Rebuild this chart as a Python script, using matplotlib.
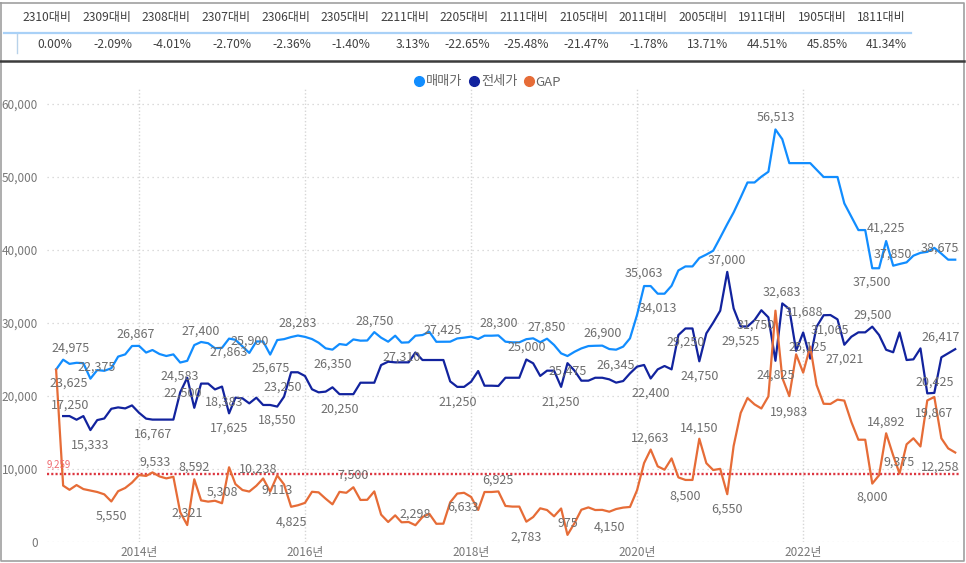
import numpy as np
import pandas as pd
import matplotlib
matplotlib.use("Agg")
import matplotlib.pyplot as plt
from matplotlib.lines import Line2D

plt.rcParams['font.family'] = ['Noto Sans CJK KR', 'DejaVu Sans']

# ---- data -------------------------------------------------------------
compare_cols = ['2310대비', '2309대비', '2308대비', '2307대비', '2306대비', '2305대비',
                '2211대비', '2205대비', '2111대비', '2105대비', '2011대비', '2005대비',
                '1911대비', '1905대비', '1811대비']
compare_vals = ['0.00%', '-2.09%', '-4.01%', '-2.70%', '-2.36%', '-1.40%', '3.13%',
                '-22.65%', '-25.48%', '-21.47%', '-1.78%', '13.71%', '44.51%',
                '45.85%', '41.34%']

months = pd.date_range('2013-01-01', periods=131, freq='MS')

sale = [23625, 24975, 24400, 24550, 24500, 22375, 23550, 23450, 23800, 25400,
        25700, 26850, 26867, 25950, 26300, 25750, 25480, 25700, 24583, 24821,
        26975, 27400, 27230, 26550, 26600, 27863, 27700, 26800, 25900, 27470,
        27470, 25675, 27663, 27790, 28075, 28283, 28100, 27800, 27300, 26530,
        26350, 27120, 26990, 27750, 27580, 27600, 28750, 27990, 27440, 28260,
        27310, 27350, 28260, 28350, 28800, 27425, 27440, 27440, 27883, 27990,
        28130, 27810, 28260, 28260, 28300, 27440, 27350, 27350, 27783, 27900,
        27365, 27850, 26990, 25840, 25475, 26060, 26518, 26840, 26880, 26900,
        26430, 26345, 26764, 27900, 31100, 35063, 35063, 34013, 34013, 35100,
        37200, 37750, 37750, 38900, 39376, 39900, 41700, 43550, 45150, 47200,
        49250, 49250, 50040, 50720, 56513, 55180, 51900, 51900, 51900, 51900,
        51000, 50000, 50000, 50000, 46390, 44560, 42730, 42730, 37500, 37500,
        41225, 37850, 38080, 38310, 39224, 39610, 39748, 40292, 39500, 38675,
        38675]

jeonse = [np.nan, 17250, 17250, 16750, 17250, 15333, 16700, 16920, 18250, 18440,
          18300, 18710, 17700, 16900, 16767, 16767, 16767, 16767, 20500, 22500,
          18383, 21700, 21700, 20900, 21292, 17625, 19770, 19680, 18990, 19770,
          18770, 18770, 18550, 19910, 23250, 23250, 22740, 20920, 20500, 20600,
          21190, 20250, 20250, 20250, 21820, 21820, 21820, 24240, 24700, 24610,
          24610, 24610, 25962, 24930, 24930, 24930, 24930, 22000, 21250, 21250,
          21960, 23420, 21410, 21410, 21375, 22500, 22500, 22500, 25000, 24480,
          22750, 23470, 23470, 21250, 24500, 23470, 22100, 22100, 22500, 22500,
          22280, 21830, 22050, 23100, 24020, 24250, 22400, 23650, 24110, 23650,
          28350, 29250, 29250, 24750, 28580, 30040, 31680, 37000, 32000, 29525,
          29525, 30400, 31750, 30770, 24825, 32683, 31917, 26190, 28700, 25125,
          29490, 31065, 31090, 30500, 27021, 28120, 28720, 28720, 29500, 28350,
          26333, 25990, 28705, 24930, 25020, 26520, 20360, 20425, 25300, 25850,
          26417]

gap = [23625, 7725, 7150, 7800, 7250, 7042, 6850, 6530, 5550, 6960,
       7400, 8140, 9167, 9050, 9533, 8983, 8713, 8933, 4083, 2321,
       8592, 5700, 5530, 5650, 5308, 10238, 7930, 7120, 6910, 7700,
       8700, 6905, 9113, 7880, 4825, 5033, 5360, 6880, 6800, 5930,
       5160, 6870, 6740, 7500, 5760, 5780, 6930, 3750, 2740, 3650,
       2700, 2740, 2298, 3420, 3870, 2495, 2510, 5440, 6633, 6740,
       6170, 4390, 6850, 6850, 6925, 4940, 4850, 4850, 2783, 3420,
       4615, 4380, 3520, 4590, 975, 2590, 4418, 4740, 4380, 4400,
       4150, 4515, 4714, 4800, 7080, 10813, 12663, 10363, 9903, 11450,
       8850, 8500, 8500, 14150, 10796, 9860, 10020, 6550, 13150, 17675,
       19725, 18850, 18290, 19950, 31688, 22497, 19983, 25710, 23200, 26775,
       21510, 18935, 18910, 19500, 19369, 16440, 14010, 14010, 8000, 9150,
       14892, 11860, 9375, 13380, 14204, 13090, 19388, 19867, 14200, 12825,
       12258]

gap_avg = 9259

# data labels: (month index, dx px, dy px downward)
sale_lbl = [(0, 13, 14), (1, 7, -12), (5, 6, -12), (12, -3, -12), (18, 0, 14),
            (21, 0, -11), (25, 0, 14), (28, 0, -12), (31, 0, 14), (35, 0, -12),
            (40, 0, 14), (46, 0, -11), (50, 0, 15), (55, 6, -12), (64, 0, -12),
            (71, 0, -12), (74, 0, 15), (79, 0, -12), (81, 0, 15), (85, 0, -13),
            (87, 0, 14), (104, 0, -12), (118, 0, 14), (120, 0, -13), (121, 0, -12),
            (129, -8, -12)]
jeonse_lbl = [(1, 7, -11), (5, 0, 15), (14, 1, 15), (19, -4, 15), (20, 30, -6),
              (25, 0, 15), (32, 0, 14), (34, -8, 15), (41, 0, 15), (58, 0, 15),
              (68, 0, -12), (73, 0, 15), (86, 0, 15), (91, 0, 14), (93, 0, 15),
              (97, 0, -12), (99, 0, 15), (102, -6, 15), (104, 0, 14), (105, 0, -11),
              (109, -2, -11), (111, 6, 15), (114, 0, 14), (118, 0, -12), (127, 0, -11),
              (130, -15, -12)]
gap_lbl = [(8, 0, 15), (14, 3, -10), (19, 0, -12), (20, 0, -12), (24, 0, -11),
           (25, 29, 2), (32, 0, 15), (34, 0, 15), (43, 0, -12), (52, 0, -11),
           (58, 6, 14), (64, 0, -11), (68, 0, 15), (74, 0, -11), (80, 0, 15),
           (86, 0, -11), (91, 0, 16), (93, 0, -11), (97, 0, 15), (104, 28, 1),
           (106, 0, 16), (118, 0, 14), (120, 0, -11), (122, 0, -11), (127, 0, 16),
           (130, -15, 15)]

c_sale, c_jeonse, c_gap = '#118DFF', '#12239E', '#E66C37'
txt_gray = '#6e6e6e'

W, H = 966, 563
fig = plt.figure(figsize=(W / 100, H / 100), dpi=100)


def fx(x):
    return x / W


def fy(y):
    return 1 - y / H


# ---- comparison table on top -----------------------------------------
col_w = 59.6
for k, (c, v) in enumerate(zip(compare_cols, compare_vals)):
    right = 18 + col_w * (k + 1)
    fig.text(fx(right - 6), fy(18), c, ha='right', va='center', fontsize=8.7, color='#404040')
    fig.text(fx(right - 5), fy(45), v, ha='right', va='center', fontsize=8.7, color='#404040')
    fig.add_artist(Line2D([fx(right - col_w + 1), fx(right - 1)], [fy(33), fy(33)],
                          color='#a9d1f7', lw=1.6))
fig.add_artist(Line2D([fx(4), fx(17)], [fy(33), fy(33)], color='#a9d1f7', lw=1.6))
fig.add_artist(Line2D([fx(17), fx(17)], [fy(34), fy(53)], color='#b8d2ea', lw=1))

# frame
fig.add_artist(Line2D([fx(1), fx(964), fx(964), fx(1), fx(1)],
                      [fy(3), fy(3), fy(561), fy(561), fy(3)], color='#a0a0a0', lw=1.2))
fig.add_artist(Line2D([0, fx(964)], [fy(61), fy(61)], color='#3c3c3c', lw=1.8))

# ---- chart ------------------------------------------------------------
ax = fig.add_axes([fx(47), fy(542), fx(960) - fx(47), fy(89.4) - fy(542)])
ax.plot(months, sale, color=c_sale, lw=1.6, solid_joinstyle='round')
ax.plot(months, jeonse, color=c_jeonse, lw=1.6, solid_joinstyle='round')
ax.plot(months, gap, color=c_gap, lw=1.6, solid_joinstyle='round')
ax.axhline(gap_avg, color='#DD3640', lw=1.7, ls=(0, (0.9, 0.9)), zorder=1)
ax.annotate(f'{gap_avg:,}', xy=(0, gap_avg), xycoords=('axes fraction', 'data'),
            xytext=(0, 4), textcoords='offset pixels', ha='left', va='bottom',
            fontsize=7, color='#EF6A6F')

for series, lbls in ((sale, sale_lbl), (jeonse, jeonse_lbl), (gap, gap_lbl)):
    for i, dx, dy in lbls:
        ax.annotate(f'{series[i]:,}', xy=(months[i], series[i]), xytext=(dx, -dy),
                    textcoords='offset pixels', ha='center', va='center',
                    fontsize=9, color=txt_gray)

ax.set_ylim(0, 62000)
ax.set_xlim(pd.Timestamp('2012-11-22'), pd.Timestamp('2023-11-22'))
ax.set_yticks(range(0, 60001, 10000))
ax.set_yticklabels([f'{v:,}' for v in range(0, 60001, 10000)])
years = [2014, 2016, 2018, 2020, 2022]
ax.set_xticks([pd.Timestamp(f'{y}-01-01') for y in years])
ax.set_xticklabels([f'{y}년' for y in years])
ax.tick_params(length=0, labelsize=8.5, labelcolor='#777777')
ax.tick_params(axis='y', pad=6.5)
ax.tick_params(axis='x', pad=3)
ax.grid(axis='y', color='#d0d0d0', lw=0.9, ls=(0, (1, 3)))
ax.grid(axis='x', color='#d6d6d6', lw=1.0, ls=(0, (1, 1.5)))
ax.set_axisbelow(True)
for s in ax.spines.values():
    s.set_visible(False)

handles = [Line2D([], [], ls='', marker='o', ms=7, color=c) for c in (c_sale, c_jeonse, c_gap)]
leg = fig.legend(handles, ['매매가', '전세가', 'GAP'], loc='center', ncol=3,
                 bbox_to_anchor=(fx(487), fy(82)), frameon=False, fontsize=9.5,
                 handletextpad=0.0, columnspacing=0.4, handlelength=1.0)
for t in leg.get_texts():
    t.set_color('#666666')

fig.savefig('out.png', dpi=100)
